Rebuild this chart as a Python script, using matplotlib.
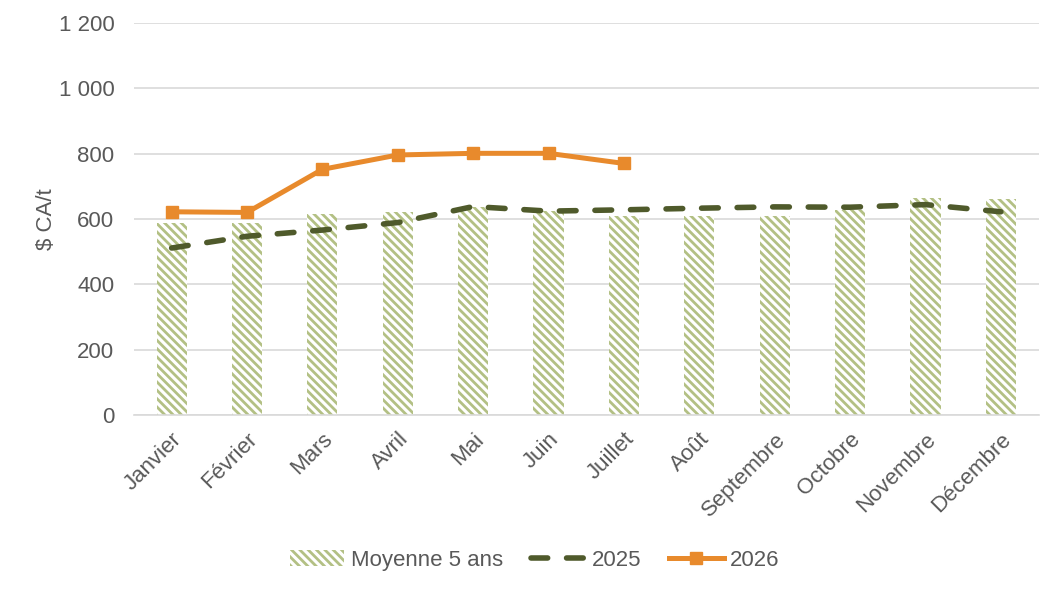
import matplotlib
matplotlib.use("Agg")
import matplotlib.pyplot as plt
import numpy as np

months = ["Janvier", "Février", "Mars", "Avril", "Mai", "Juin", "Juillet",
          "Août", "Septembre", "Octobre", "Novembre", "Décembre"]
avg5 = [589, 588, 616, 622, 638, 625, 610, 608, 608, 626, 663, 661]
y2025 = [511, 547, 566, 589, 638, 624, 628, 633, 637, 636, 644, 622]
y2026 = [622, 620, 752, 796, 801, 801, 770]
yticks = [0, 200, 400, 600, 800, 1000, 1200]
ytick_labels = ["0", "200", "400", "600", "800", "1 000", "1 200"]

plt.rcParams['font.family'] = ['Liberation Sans', 'DejaVu Sans']
plt.rcParams['hatch.linewidth'] = 2.0

txt = "#595959"
bar_col = "#b3c084"
c2025 = "#4f5a2b"
c2026 = "#e88a2c"

fig = plt.figure(figsize=(10.63, 5.91), dpi=100)
ax = fig.add_axes([0.126, 0.298, 0.851, 0.663])

x = np.arange(len(months))
bars = ax.bar(x, avg5, width=0.4, facecolor="white", edgecolor=bar_col,
              hatch="\\\\\\\\", linewidth=0, label="Moyenne 5 ans", zorder=2)
l25, = ax.plot(x, y2025, color=c2025, lw=4, dashes=(3.0, 3.4),
               dash_capstyle='round', label="2025", zorder=3)
l26, = ax.plot(x[:len(y2026)], y2026, color=c2026, lw=3.6, marker="s",
               markersize=9, label="2026", zorder=4)

ax.set_xlim(-0.5, len(months) - 0.5)
ax.set_ylim(0, 1200)
ax.set_yticks(yticks)
ax.set_yticklabels(ytick_labels)
ax.set_xticks(x)
ax.set_xticklabels(months, rotation=45, ha="right", rotation_mode="anchor")
ax.grid(axis="y", color="#d9d9d9", lw=1.2, zorder=0)
ax.set_axisbelow(True)
for s in ["top", "right", "left"]:
    ax.spines[s].set_visible(False)
ax.spines["bottom"].set_color("#d9d9d9")
ax.spines["bottom"].set_linewidth(1.2)
ax.tick_params(axis="both", length=0, labelsize=16, labelcolor=txt)
ax.tick_params(axis="y", pad=14)
ax.tick_params(axis="x", pad=10)
ax.set_ylabel("$ CA/t", fontsize=16, color=txt, labelpad=1)

leg = fig.legend(handles=[bars, l25, l26], loc="center", bbox_to_anchor=(0.503, 0.052),
                 ncol=3, frameon=False, fontsize=16, labelcolor=txt,
                 handlelength=2.45, columnspacing=1.25, handletextpad=0.3)

fig.savefig("out.png", dpi=100)
